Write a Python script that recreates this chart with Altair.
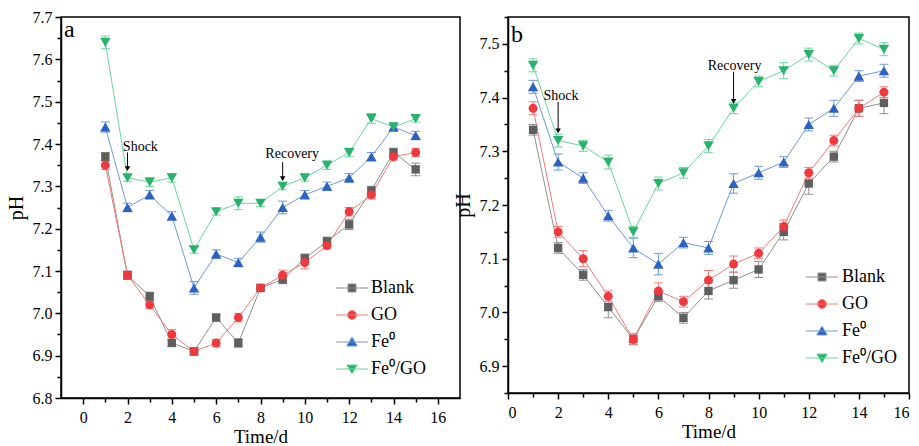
import altair as alt
import pandas as pd

days = list(range(1, 16))
series_names = ["Blank", "GO", "Fe⁰", "Fe⁰/GO"]
marker_colors = ["#5f5f5f", "#f0393c", "#2c62c2", "#27b36c"]
line_colors = ["#8f8f8f", "#f27b7b", "#6e98dc", "#6fd3a0"]
plot_shapes = ["square", "circle", "triangle-up", "triangle-down"]
plot_sizes = [70, 80, 110, 110]
legend_paths = [
    "M-2,0H2M-0.5,-0.5H0.5V0.5H-0.5Z",
    "M-2,0H2M0.55,0A0.55,0.55 0 1,1 -0.55,0A0.55,0.55 0 1,1 0.55,0Z",
    "M-2,0H2M0,-0.6L0.65,0.5L-0.65,0.5Z",
    "M-2,0H2M0,0.6L0.65,-0.5L-0.65,-0.5Z",
]

# ---- panel a ----
a_blank = [7.37, 7.09, 7.04, 6.93, 6.91, 6.99, 6.93, 7.06, 7.08, 7.13, 7.17, 7.21, 7.29, 7.38, 7.34]
a_go = [7.35, 7.09, 7.02, 6.95, 6.91, 6.93, 6.99, 7.06, 7.09, 7.12, 7.16, 7.24, 7.28, 7.37, 7.38]
a_fe = [7.44, 7.25, 7.28, 7.23, 7.06, 7.14, 7.12, 7.18, 7.25, 7.28, 7.30, 7.32, 7.37, 7.44, 7.42]
a_fego = [7.64, 7.32, 7.31, 7.32, 7.15, 7.24, 7.26, 7.26, 7.30, 7.32, 7.35, 7.38, 7.46, 7.44, 7.46]
a_blank_err = [0.01, 0.01, 0.01, 0.008, 0.008, 0.008, 0.01, 0.008, 0.01, 0.01, 0.01, 0.012, 0.01, 0.01, 0.015]
a_go_err = [0.01, 0.008, 0.008, 0.012, 0.008, 0.008, 0.01, 0.008, 0.012, 0.015, 0.008, 0.01, 0.01, 0.008, 0.01]
a_fe_err = [0.012, 0.01, 0.01, 0.01, 0.015, 0.01, 0.01, 0.012, 0.015, 0.01, 0.01, 0.01, 0.01, 0.01, 0.01]
a_fego_err = [0.015, 0.008, 0.01, 0.01, 0.008, 0.008, 0.015, 0.008, 0.008, 0.008, 0.01, 0.01, 0.012, 0.01, 0.008]

# ---- panel b ----
b_blank = [7.34, 7.12, 7.07, 7.01, 6.95, 7.03, 6.99, 7.04, 7.06, 7.08, 7.15, 7.24, 7.29, 7.38, 7.39]
b_go = [7.38, 7.15, 7.10, 7.03, 6.95, 7.04, 7.02, 7.06, 7.09, 7.11, 7.16, 7.26, 7.32, 7.38, 7.41]
b_fe = [7.42, 7.28, 7.25, 7.18, 7.12, 7.09, 7.13, 7.12, 7.24, 7.26, 7.28, 7.35, 7.38, 7.44, 7.45]
b_fego = [7.46, 7.32, 7.31, 7.28, 7.15, 7.24, 7.26, 7.31, 7.38, 7.43, 7.45, 7.48, 7.45, 7.51, 7.49]
b_blank_err = [0.01, 0.01, 0.01, 0.02, 0.01, 0.01, 0.01, 0.015, 0.015, 0.015, 0.015, 0.02, 0.01, 0.015, 0.02]
b_go_err = [0.012, 0.01, 0.015, 0.01, 0.01, 0.015, 0.01, 0.018, 0.015, 0.01, 0.012, 0.01, 0.01, 0.015, 0.01]
b_fe_err = [0.012, 0.015, 0.01, 0.01, 0.018, 0.02, 0.01, 0.012, 0.018, 0.012, 0.01, 0.012, 0.015, 0.01, 0.012]
b_fego_err = [0.012, 0.012, 0.01, 0.013, 0.01, 0.012, 0.01, 0.012, 0.01, 0.01, 0.015, 0.012, 0.01, 0.01, 0.012]

# axis tick values
a_x_ticks = list(range(0, 17))
b_x_ticks = list(range(0, 17))
a_y_ticks = [6.8, 6.85, 6.9, 6.95, 7.0, 7.05, 7.1, 7.15, 7.2, 7.25, 7.3, 7.35, 7.4, 7.45, 7.5, 7.55, 7.6, 7.65, 7.7]
b_y_ticks = [6.85, 6.9, 6.95, 7.0, 7.05, 7.1, 7.15, 7.2, 7.25, 7.3, 7.35, 7.4, 7.45, 7.5, 7.55]

# annotations: label, day, text x, text y, arrow start y, arrow end y
a_ann_text = ["Shock", "Recovery"]
a_ann_day = [2, 9]
a_ann_tx = [2.58, 9.43]
a_ann_ty = [7.393, 7.376]
a_ann_y1 = [7.38, 7.357]
a_ann_y2 = [7.342, 7.318]

b_ann_text = ["Shock", "Recovery"]
b_ann_day = [2, 9]
b_ann_tx = [2.11, 9.04]
b_ann_ty = [7.403, 7.459]
b_ann_y1 = [7.392, 7.448]
b_ann_y2 = [7.338, 7.393]

FONT = "Liberation Serif"


def make_panel(vals, errs, xdom, ydom, xticks, yticks, w, h, letter, letter_y,
               ann, legend_x, legend_y, label_offset):
    rows = []
    for s, v, e in zip(series_names, vals, errs):
        for d, vv, ee in zip(days, v, e):
            rows.append(dict(day=d, series=s, pH=vv, lo=vv - ee, hi=vv + ee))
    df = pd.DataFrame(rows)

    xs = alt.Scale(domain=xdom, nice=False, zero=False)
    ys = alt.Scale(domain=ydom, nice=False, zero=False)
    xaxis = alt.Axis(
        values=xticks, title="Time/d", grid=False,
        labelExpr="datum.value % 2 === 0 ? datum.label : ''",
        tickSize={"condition": {"test": "datum.value % 2 === 0", "value": 6}, "value": 4},
        labelFontSize=16, titleFontSize=19, labelPadding=5, titlePadding=2,
        labelFont=FONT, titleFont=FONT, titleFontWeight="normal",
    )
    yaxis = alt.Axis(
        values=yticks, title="pH", grid=False,
        labelExpr="round(datum.value * 100) % 10 === 0 ? format(datum.value, '.1f') : ''",
        tickSize={"condition": {"test": "round(datum.value * 100) % 10 === 0", "value": 6}, "value": 4},
        labelFontSize=16, titleFontSize=20, labelPadding=3, titlePadding=6,
        labelFont=FONT, titleFont=FONT, titleFontWeight="normal",
    )
    X = alt.X("day:Q", scale=xs, axis=xaxis)
    Y = alt.Y("pH:Q", scale=ys, axis=yaxis)
    Ylo = alt.Y("lo:Q", scale=ys, axis=yaxis)
    Yhi = alt.Y("hi:Q", scale=ys, axis=yaxis)

    layers = []
    for i, s in enumerate(series_names):
        b = alt.Chart(df).transform_filter(alt.datum.series == s)
        lc = line_colors[i]
        layers.append(b.mark_line(strokeWidth=1, color=lc).encode(x=X, y=Y))
        layers.append(b.mark_rule(strokeWidth=1, color=lc).encode(x=X, y=Ylo, y2="hi:Q"))
        layers.append(b.mark_tick(orient="horizontal", size=9, thickness=1, opacity=1, color=lc).encode(x=X, y=Ylo))
        layers.append(b.mark_tick(orient="horizontal", size=9, thickness=1, opacity=1, color=lc).encode(x=X, y=Yhi))
    for i, s in enumerate(series_names):
        b = alt.Chart(df).transform_filter(alt.datum.series == s)
        layers.append(b.mark_point(filled=True, opacity=1, strokeWidth=0, shape=plot_shapes[i],
                                   size=plot_sizes[i], color=marker_colors[i]).encode(x=X, y=Y))

    leg = alt.Legend(
        orient="none", legendX=legend_x, legendY=legend_y, title=None,
        labelFont=FONT, labelFontSize=18, labelColor="black", labelOffset=label_offset,
        symbolStrokeWidth=1, rowPadding=9, padding=0, symbolOpacity=1, symbolSize=256,
    )
    legend_layer = alt.Chart(df).mark_point(filled=False, opacity=1, size=256, strokeWidth=1).encode(
        x=X, y=Y,
        color=alt.Color("series:N", scale=alt.Scale(domain=series_names, range=line_colors), legend=leg),
        fill=alt.Fill("series:N", scale=alt.Scale(domain=series_names, range=marker_colors), legend=leg),
        shape=alt.Shape("series:N", scale=alt.Scale(domain=series_names, range=legend_paths), legend=leg),
    ).transform_filter("false")
    layers.append(legend_layer)

    adf = pd.DataFrame(dict(label=ann[0], day=ann[1], tx=ann[2], ty=ann[3], y1=ann[4], y2=ann[5]))
    abase = alt.Chart(adf)
    layers.append(abase.mark_rule(color="black", strokeWidth=1).encode(
        x=alt.X("day:Q", scale=xs, axis=xaxis), y=alt.Y("y1:Q", scale=ys, axis=yaxis), y2="y2:Q"))
    layers.append(abase.mark_point(shape="triangle-down", filled=True, color="black", size=30, opacity=1).encode(
        x=alt.X("day:Q", scale=xs, axis=xaxis), y=alt.Y("y2:Q", scale=ys, axis=yaxis)))
    layers.append(abase.mark_text(font=FONT, fontSize=14, color="black", baseline="middle").encode(
        x=alt.X("tx:Q", scale=xs, axis=xaxis), y=alt.Y("ty:Q", scale=ys, axis=yaxis), text="label:N"))

    layers.append(alt.Chart(pd.DataFrame({"t": [letter]})).mark_text(
        font=FONT, fontSize=24, align="left", baseline="alphabetic", color="black"
    ).encode(x=alt.value(3), y=alt.value(letter_y), text="t:N"))

    return alt.layer(*layers).properties(width=w, height=h)


pa = make_panel(
    [a_blank, a_go, a_fe, a_fego], [a_blank_err, a_go_err, a_fe_err, a_fego_err],
    [-1, 17], [6.8, 7.7], a_x_ticks, a_y_ticks, 399, 381, "a", 20,
    (a_ann_text, a_ann_day, a_ann_tx, a_ann_ty, a_ann_y1, a_ann_y2), 282, 262, 10,
)
pb = make_panel(
    [b_blank, b_go, b_fe, b_fego], [b_blank_err, b_go_err, b_fe_err, b_fego_err],
    [0, 16], [6.85, 7.55], b_x_ticks, b_y_ticks, 401, 376, "b", 25,
    (b_ann_text, b_ann_day, b_ann_tx, b_ann_ty, b_ann_y1, b_ann_y2), 305, 251, 11,
)

chart = alt.hconcat(pa, pb, spacing=48, bounds="flush").resolve_scale(
    color="independent", shape="independent", fill="independent"
).properties(
    padding={"left": 5, "top": 8, "right": 0, "bottom": 0},
).configure(font=FONT, background="white").configure_view(
    stroke="black", strokeWidth=1.5
).configure_axis(
    domainColor="black", domainWidth=1.5, tickColor="black", tickWidth=1.5,
    labelColor="black", titleColor="black",
)

chart.save("out.html", embed_options={"renderer": "svg", "actions": False})
